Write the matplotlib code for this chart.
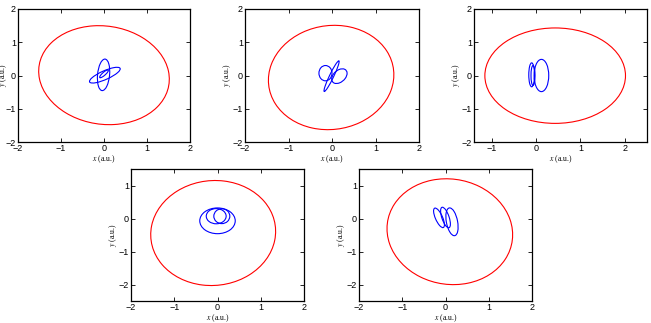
import matplotlib
matplotlib.use("Agg")
import matplotlib.pyplot as plt
from matplotlib.patches import Ellipse

plt.rcParams['font.family'] = ['Liberation Sans', 'DejaVu Sans']
plt.rcParams['mathtext.fontset'] = 'stix'

# axis ranges and ticks of the five panels
xlims = [(-2, 2), (-2, 2), (-1.4, 2.5), (-2, 2), (-2, 2)]
ylims = [(-2, 2), (-2, 2), (-2, 2), (-2.5, 1.5), (-2.5, 1.5)]
xticks = [[-2, -1, 0, 1, 2], [-2, -1, 0, 1, 2], [-1, 0, 1, 2], [-2, -1, 0, 1, 2], [-2, -1, 0, 1, 2]]
yticks = [[-2, -1, 0, 1, 2], [-2, -1, 0, 1, 2], [-2, -1, 0, 1, 2], [-2, -1, 0, 1], [-2, -1, 0, 1]]

# red outer orbit per panel: centre x, centre y, width, height, angle (deg)
red_cx = [0.0, -0.02, 0.43, -0.10, 0.10]
red_cy = [0.01, -0.06, -0.005, -0.44, -0.40]
red_w = [3.13, 3.16, 3.17, 3.19, 3.23]
red_h = [2.88, 2.86, 2.87, 2.88, 2.88]
red_ang = [-38, 74, 0, 81, -75]

# blue inner loops per panel: lists of (cx, cy, width, height, angle)
blue_loops = [
    [(0.02, 0.01, 0.82, 0.25, 31), (-0.01, 0.02, 0.95, 0.28, 86), (0.0, 0.05, 0.30, 0.08, 50)],
    [(-0.15, 0.07, 0.30, 0.46, 0), (0.17, -0.02, 0.48, 0.30, 60), (-0.01, -0.02, 0.98, 0.10, 70)],
    [(0.12, 0.0, 0.33, 0.97, 0), (-0.10, 0.02, 0.13, 0.72, 0), (-0.07, 0.0, 0.09, 0.60, 0)],
    [(0.0, -0.07, 0.82, 0.78, 0), (-0.03, 0.07, 0.46, 0.46, 0), (0.10, 0.07, 0.37, 0.45, 0)],
    [(-0.15, 0.02, 0.62, 0.17, 108), (0.0, 0.03, 0.64, 0.17, 104), (0.15, -0.10, 0.85, 0.26, 98)],
]

W, H = 651, 323
boxes = [(18, 9, 172, 133), (245, 9, 174, 133), (474, 9, 173, 133),
         (131, 169, 173, 132), (359, 169, 173, 132)]

fig = plt.figure(figsize=(6.51, 3.23), dpi=100)

for i in range(5):
    l, t, w, h = boxes[i]
    ax = fig.add_axes([l / W, 1 - (t + h) / H, w / W, h / H])
    ax.add_patch(Ellipse((red_cx[i], red_cy[i]), red_w[i], red_h[i], angle=red_ang[i],
                         fill=False, edgecolor='#ff0000', lw=0.8))
    for cx, cy, ew, eh, ea in blue_loops[i]:
        ax.add_patch(Ellipse((cx, cy), ew, eh, angle=ea, fill=False, edgecolor='#0000ff', lw=0.8))
    ax.set_xlim(xlims[i])
    ax.set_ylim(ylims[i])
    ax.set_xticks(xticks[i])
    ax.set_yticks(yticks[i])
    ax.tick_params(direction='in', top=True, right=True, labelsize=6.5, length=3, width=0.6, pad=1.5)
    for s in ax.spines.values():
        s.set_linewidth(0.9)
    ax.set_xlabel(r'$x$ (a.u.)', fontsize=5.5, family='Liberation Serif', labelpad=0)
    ax.set_ylabel(r'$y$ (a.u.)', fontsize=5.5, family='Liberation Serif', labelpad=0)
    if i == 0:
        ax.yaxis.set_label_coords(-0.055, 0.5)

fig.savefig("out.png", dpi=100)
